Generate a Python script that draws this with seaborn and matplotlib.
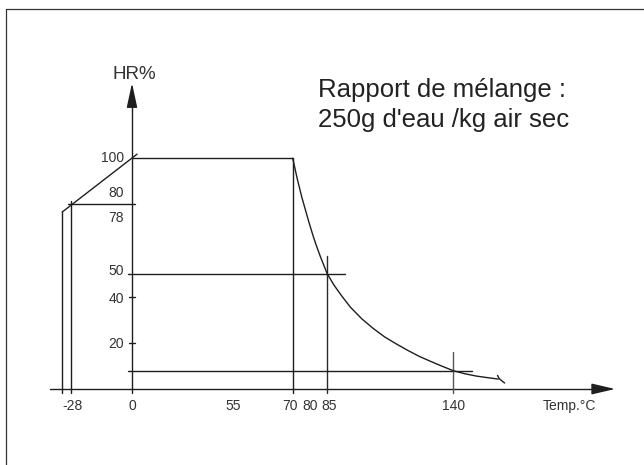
import matplotlib
matplotlib.use("Agg")
import matplotlib.pyplot as plt
import seaborn as sns
import pandas as pd
from matplotlib.lines import Line2D

sns.set_theme(style="white")
plt.rcParams['font.family'] = ['Liberation Sans', 'DejaVu Sans']

# ---- data ----
curve_temp = [70, 71, 72, 73, 74, 75, 76, 77, 78, 79, 80, 82, 85, 88, 91, 95,
              100, 105, 110, 115, 120, 125, 130, 135, 140, 145, 150, 155, 159.5]
curve_hr = [100, 95.5, 91, 87, 83, 79.5, 76, 72.5, 69.2, 66, 63, 57.5, 50, 45, 40.8, 35.6,
            30.5, 26.3, 22.6, 19.6, 16.8, 14.2, 12.0, 9.9, 7.9, 6.6, 5.6, 4.9, 4.3]
hook_temp = [159.2, 160.0, 162.3]
hook_hr = [5.9, 4.4, 2.6]

x_labels = ["-28", "0", "55", "70", "80", "85", "140"]
x_label_pos = [-26.0, 0, 44.0, 68.7, 77.5, 85.8, 140]
y_labels = ["100", "80", "78", "50", "40", "20"]
y_label_pos = [100, 85, 74.1, 51.1, 39.0, 19.5]
y_minor_ticks = [20, 40]

cold_line = -26.6      # -28 °C line
outer_line = -30.4
hr_cold_start = 76.7
knee = (2.2, 101.8)
points = {"t70": 70, "t85": 85, "t140": 140, "hr50": 50, "hr140": 7.9, "hr80": 80, "hr100": 100}

# ---- figure (1 data unit ~ 2.3 px) ----
fig = plt.figure(figsize=(6.44, 4.65), dpi=100)
ax = fig.add_axes([0, 0, 1, 1])
ax.set_xlim((0 - 132) / 2.296, (644 - 132) / 2.296)
ax.set_ylim((389 - 465) / 2.307, 389 / 2.307)
ax.axis("off")

lc = "#1e1e1e"
lw = 1.0
tc = "#333333"

# axes arrows
ax.plot([-35.7, 202], [0, 0], color=lc, lw=lw)
ax.annotate("", xy=(210.4, 0), xytext=(201, 0),
            arrowprops=dict(arrowstyle="-|>,head_length=1.2,head_width=0.28", color=lc, lw=lw,
                            shrinkA=0, shrinkB=0))
ax.plot([0, 0], [-1.7, 124], color=lc, lw=lw)
ax.annotate("", xy=(0, 132.6), xytext=(0, 123),
            arrowprops=dict(arrowstyle="-|>,head_length=1.25,head_width=0.27", color=lc, lw=lw,
                            shrinkA=0, shrinkB=0))

# guide lines
ax.plot([outer_line, outer_line], [-1.7, hr_cold_start], color=lc, lw=lw)
ax.plot([outer_line, knee[0]], [hr_cold_start, knee[1]], color=lc, lw=lw)
ax.plot([cold_line, cold_line], [-1.7, 81.5], color=lc, lw=lw)
ax.plot([-27.9, 1.3], [points["hr80"]] * 2, color=lc, lw=lw)
ax.plot([0, points["t70"]], [points["hr100"]] * 2, color=lc, lw=lw)
ax.plot([points["t70"]] * 2, [-1.7, points["hr100"]], color=lc, lw=lw)
ax.plot([-1.7, 92.8], [points["hr50"]] * 2, color=lc, lw=lw)
ax.plot([points["t85"]] * 2, [-1.7, 57.6], color="#2a2a2a", lw=lw)
ax.plot([-1.7, 148], [points["hr140"]] * 2, color=lc, lw=lw)
ax.plot([points["t140"]] * 2, [-1.7, 16], color="#555555", lw=lw)
for t in y_minor_ticks:
    ax.plot([-1.5, 1.5], [t, t], color=lc, lw=lw)

# curve
df = pd.DataFrame({"temp": curve_temp, "hr": curve_hr})
sns.lineplot(data=df, x="temp", y="hr", sort=False, ax=ax, color=lc, lw=lw)
ax.plot(hook_temp, hook_hr, color=lc, lw=lw)

# labels
for lab, pos in zip(x_labels, x_label_pos):
    ax.text(pos, -7.4, lab, ha="center", va="center", fontsize=10, color=tc)
ax.text(190.5, -7.4, "Temp.°C", ha="center", va="center", fontsize=10, color=tc)
for lab, pos in zip(y_labels, y_label_pos):
    ax.text(-3.6, pos, lab, ha="right", va="center", fontsize=10, color=tc)
ax.text(1.0, 136.3, "HR%", ha="center", va="center", fontsize=13.5, color=tc)
ax.text(81.0, 129.6, "Rapport de mélange :", ha="left", va="center", fontsize=18.5, color="#222222")
ax.text(81.0, 116.4, "250g d'eau /kg air sec", ha="left", va="center", fontsize=18.5, color="#222222")

# page frame (top and left)
fig.add_artist(Line2D([6 / 644, 6 / 644], [0, 1 - 9 / 465], transform=fig.transFigure, color="#333333", lw=0.9))
fig.add_artist(Line2D([6 / 644, 1], [1 - 9 / 465, 1 - 9 / 465], transform=fig.transFigure, color="#333333", lw=0.9))

fig.savefig("out.png", dpi=100)
